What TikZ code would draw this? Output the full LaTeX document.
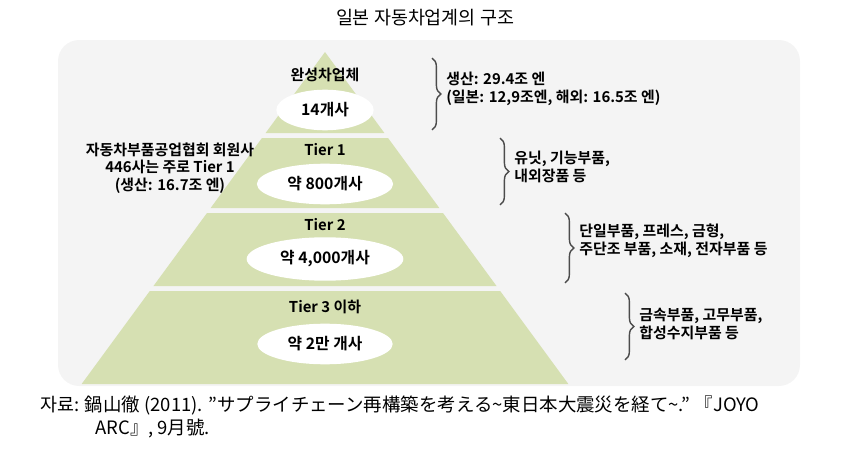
\documentclass[tikz,border=0pt]{standalone}
\usepackage{fontspec}
\setmainfont{Noto Sans CJK KR}
\newfontfamily\krbold{Noto Sans CJK KR Bold}
\usetikzlibrary{positioning}
\usetikzlibrary{shapes.geometric}
\usetikzlibrary{decorations.pathreplacing}
\definecolor{tierC}{RGB}{214,224,178}
\colorlet{backC}{gray!9}
\tikzstyle{tierlbl}=[font=\krbold\fontsize{8.5}{10}\selectfont, inner sep=1pt]
\tikzstyle{cntlbl}=[fill=white, shape=ellipse, inner xsep=6pt, inner ysep=4pt, font=\krbold\fontsize{9}{10}\selectfont]
\tikzstyle{sidelbl}=[font=\krbold\fontsize{8.5}{10}\selectfont, align=left, anchor=west, inner sep=0pt]
\tikzstyle{mbrace}=[decorate, decoration={brace, amplitude=5pt}, thick, color=black!70]
\def\tier#1#2{\fill[tierC] ({325-0.733*(#1-52)},#1) -- ({325+0.733*(#1-52)},#1) -- ({325+0.733*(#2-52)},#2) -- ({325-0.733*(#2-52)},#2) -- cycle;}
\begin{document}
\begin{tikzpicture}[x=0.02cm, y=-0.02cm]
      \useasboundingbox (0,0) rectangle (850,453);
      \fill[backC, rounded corners=12pt] (58,40) rectangle (800,386);
      \node (title) at (425,18) {\fontsize{10.5}{12}\selectfont 일본 자동차업계의 구조};
      % pyramid
      \fill[tierC] (325,52) -- ({325+0.733*81},133) -- ({325-0.733*81},133) -- cycle;
      \tier{138}{208}
      \tier{213}{286}
      \tier{291}{384}
      % labels
      \node[tierlbl] (T0) at (325,75)  {완성차업체};
      \node[cntlbl]  (C0) at (325,110) {14개사};
      \node[tierlbl] (T1) at (325,150) {Tier 1};
      \node[cntlbl]  (C1) at (325,184) {약 800개사};
      \node[tierlbl] (T2) at (325,225) {Tier 2};
      \node[cntlbl]  (C2) at (325,259) {약 4,000개사};
      \node[tierlbl] (T3) at (325,307) {Tier 3 이하};
      \node[cntlbl]  (C3) at (325,344) {약 2만 개사};
      \node[tierlbl, align=center] (L1) at (170,168) {자동차부품공업협회 회원사\\446사는 주로 Tier 1\\(생산: 16.7조 엔)};
      % braces
      \coordinate (B0a) at (432,58);  \coordinate (B0b) at (432,130);
      \coordinate (B1a) at (500,138); \coordinate (B1b) at (500,205);
      \coordinate (B2a) at (565,213); \coordinate (B2b) at (565,283);
      \coordinate (B3a) at (625,293); \coordinate (B3b) at (625,360);
      \draw[mbrace] (B0a) -- (B0b);
      \draw[mbrace] (B1a) -- (B1b);
      \draw[mbrace] (B2a) -- (B2b);
      \draw[mbrace] (B3a) -- (B3b);
      \node[sidelbl] (S0) at (446,89)  {생산: 29.4조 엔\\(일본: 12,9조엔, 해외: 16.5조 엔)};
      \node[sidelbl] (S1) at (514,167) {유닛, 기능부품,\\내외장품 등};
      \node[sidelbl] (S2) at (579,241) {단일부품, 프레스, 금형,\\주단조 부품, 소재, 전자부품 등};
      \node[sidelbl] (S3) at (639,324) {금속부품, 고무부품,\\합성수지부품 등};
      % source
      \node[anchor=west, inner sep=0pt, font=\fontsize{10.5}{12}\selectfont] (src1) at (40,406) {자료: 鍋山徹 (2011). "サプライチェーン再構築を考える\textasciitilde 東日本大震災を経て\textasciitilde." 『JOYO};
      \node[anchor=west, inner sep=0pt, font=\fontsize{10.5}{12}\selectfont] (src2) at (95,429) {ARC』, 9月號.};
\end{tikzpicture}
\end{document}
